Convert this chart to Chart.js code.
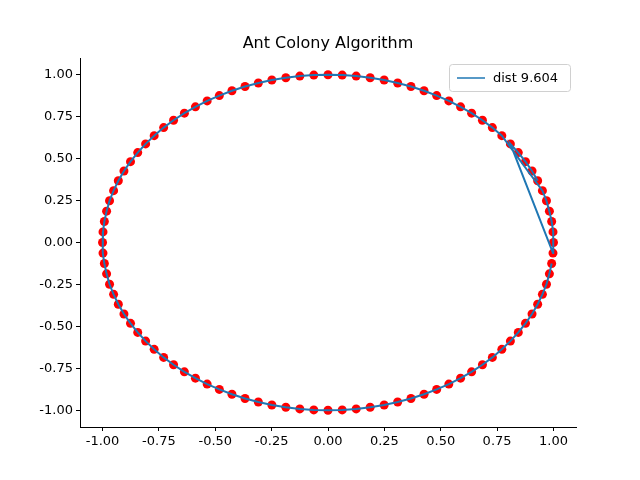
<!DOCTYPE html>
<html>
<head>
<meta charset="utf-8">
<script src="https://cdn.jsdelivr.net/npm/chart.js@4.4.0/dist/chart.umd.min.js"></script>
<style>
  html, body { margin: 0; padding: 0; background: #fff; }
  #wrap { width: 640px; height: 480px; }
</style>
</head>
<body>
<div id="wrap"><canvas id="chart" width="640" height="480"></canvas></div>
<script>
// City coordinates (index order)
const cityX = [
    1.000, 0.998, 0.992, 0.982, 0.969, 0.951, 0.930, 0.905, 0.876, 0.844, 0.809, 0.771, 0.729, 0.685, 0.637, 0.588, 0.536, 0.482, 0.426, 0.368, 0.309, 0.249, 0.187, 0.125, 0.063, 0.000,
    -0.063, -0.125, -0.187, -0.249, -0.309, -0.368, -0.426, -0.482, -0.536, -0.588, -0.637, -0.685, -0.729, -0.771, -0.809, -0.844, -0.876, -0.905, -0.930, -0.951, -0.969, -0.982, -0.992, -0.998, -1.000,
    -0.998, -0.992, -0.982, -0.969, -0.951, -0.930, -0.905, -0.876, -0.844, -0.809, -0.771, -0.729, -0.685, -0.637, -0.588, -0.536, -0.482, -0.426, -0.368, -0.309, -0.249, -0.187, -0.125, -0.063, 0.000,
    0.063, 0.125, 0.187, 0.249, 0.309, 0.368, 0.426, 0.482, 0.536, 0.588, 0.637, 0.685, 0.729, 0.771, 0.809, 0.844, 0.876, 0.905, 0.930, 0.951, 0.969, 0.982, 0.992, 0.998
];
const cityY = [
    0.000, 0.063, 0.125, 0.187, 0.249, 0.309, 0.368, 0.426, 0.482, 0.536, 0.588, 0.637, 0.685, 0.729, 0.771, 0.809, 0.844, 0.876, 0.905, 0.930, 0.951, 0.969, 0.982, 0.992, 0.998, 1.000,
    0.998, 0.992, 0.982, 0.969, 0.951, 0.930, 0.905, 0.876, 0.844, 0.809, 0.771, 0.729, 0.685, 0.637, 0.588, 0.536, 0.482, 0.426, 0.368, 0.309, 0.249, 0.187, 0.125, 0.063, 0.000,
    -0.063, -0.125, -0.187, -0.249, -0.309, -0.368, -0.426, -0.482, -0.536, -0.588, -0.637, -0.685, -0.729, -0.771, -0.809, -0.844, -0.876, -0.905, -0.930, -0.951, -0.969, -0.982, -0.992, -0.998, -1.000,
    -0.998, -0.992, -0.982, -0.969, -0.951, -0.930, -0.905, -0.876, -0.844, -0.809, -0.771, -0.729, -0.685, -0.637, -0.588, -0.536, -0.482, -0.426, -0.368, -0.309, -0.249, -0.187, -0.125, -0.063
];
// Best tour found (order of city indices)
const tourOrder = [
    6, 7, 8, 9, 10, 99, 0, 1, 2, 3, 4, 5,
    11, 12, 13, 14, 15, 16, 17, 18, 19, 20, 21, 22, 23, 24, 25, 26, 27, 28, 29, 30,
    31, 32, 33, 34, 35, 36, 37, 38, 39, 40, 41, 42, 43, 44, 45, 46, 47, 48, 49, 50,
    51, 52, 53, 54, 55, 56, 57, 58, 59, 60, 61, 62, 63, 64, 65, 66, 67, 68, 69, 70,
    71, 72, 73, 74, 75, 76, 77, 78, 79, 80, 81, 82, 83, 84, 85, 86, 87, 88, 89, 90,
    91, 92, 93, 94, 95, 96, 97, 98
];
const tickValues = [-1.00, -0.75, -0.50, -0.25, 0.00, 0.25, 0.50, 0.75, 1.00];
const titleText = 'Ant Colony Algorithm';
const legendLabel = 'dist 9.604';

const FONT = '"DejaVu Sans", sans-serif';
const BLUE = '#1f77b4';

const cityPoints = cityX.map((x, i) => ({ x: x, y: cityY[i] }));
const tourPoints = tourOrder.map(i => ({ x: cityX[i], y: cityY[i] }));

// Title + legend box drawn matplotlib-style
const decorPlugin = {
    id: 'decor',
    afterDraw(chart) {
        const c = chart.ctx;
        const a = chart.chartArea;
        c.save();
        c.fillStyle = '#000';
        c.font = '16px ' + FONT;
        c.textAlign = 'center';
        c.textBaseline = 'bottom';
        c.fillText(titleText, (a.left + a.right) / 2, a.top - 6);

        // legend
        const w = 121, h = 27;
        const lx = a.right - 6 - w, ly = a.top + 6;
        c.fillStyle = 'rgba(255,255,255,0.8)';
        c.strokeStyle = '#d0d0d0';
        c.lineWidth = 1;
        c.beginPath();
        c.roundRect(lx + 0.5, ly + 0.5, w, h, 3);
        c.fill();
        c.stroke();
        c.strokeStyle = BLUE;
        c.lineWidth = 1.5;
        c.beginPath();
        c.moveTo(lx + 8, ly + h / 2 + 0.5);
        c.lineTo(lx + 36, ly + h / 2 + 0.5);
        c.stroke();
        c.fillStyle = '#000';
        c.font = '13px ' + FONT;
        c.textAlign = 'left';
        c.textBaseline = 'middle';
        c.fillText(legendLabel, lx + 44, ly + h / 2 + 1);
        c.restore();
    }
};

function axisOpts(isY) {
    return {
        type: 'linear',
        min: -1.1,
        max: 1.1,
        afterBuildTicks: axis => { axis.ticks = tickValues.map(v => ({ value: v })); },
        afterFit: axis => {
            if (isY) axis.width = 80; else axis.height = 53;
        },
        ticks: {
            color: '#000',
            font: { family: FONT, size: 13 },
            padding: 3,
            maxRotation: 0,
            autoSkip: false,
            callback: v => v.toFixed(2)
        },
        grid: {
            drawOnChartArea: false,
            color: '#000',
            tickLength: 4,
            tickWidth: 1
        },
        border: { color: '#000', width: 1 }
    };
}

new Chart(document.getElementById('chart'), {
    type: 'scatter',
    data: {
        datasets: [
            {
                label: 'tour',
                type: 'line',
                data: tourPoints,
                borderColor: BLUE,
                borderWidth: 2,
                pointRadius: 0,
                fill: false,
                tension: 0,
                order: 0
            },
            {
                label: 'cities',
                data: cityPoints,
                backgroundColor: '#ff0000',
                borderWidth: 0,
                pointRadius: 4.5,
                order: 1
            }
        ]
    },
    options: {
        responsive: false,
        animation: false,
        devicePixelRatio: 1,
        layout: { padding: { left: 0, right: 64, top: 58, bottom: 0 } },
        plugins: {
            legend: { display: false },
            title: { display: false },
            tooltip: { enabled: false }
        },
        scales: {
            x: axisOpts(false),
            y: axisOpts(true)
        }
    },
    plugins: [decorPlugin]
});
</script>
</body>
</html>
